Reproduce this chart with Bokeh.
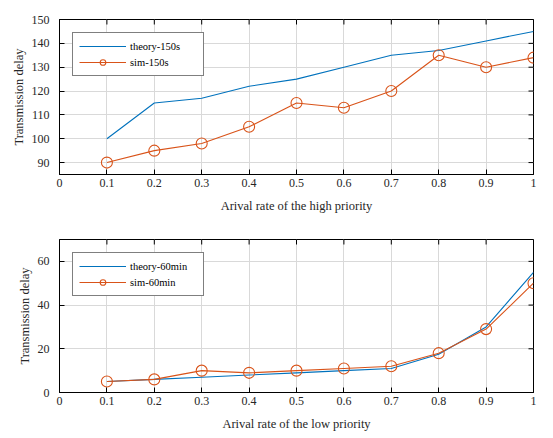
import math
from bokeh.plotting import figure
from bokeh.models import Range1d, FixedTicker, Legend, LegendItem
from bokeh.layouts import column
from bokeh.embed import file_html
from bokeh.resources import INLINE

# ---- data ----
x = [0.1, 0.2, 0.3, 0.4, 0.5, 0.6, 0.7, 0.8, 0.9, 1.0]
theory_high = [100, 115, 117, 122, 125, 130, 135, 137, 141, 145]
sim_high = [90, 95, 98, 105, 115, 113, 120, 135, 130, 134]
theory_low = [5, 6, 7, 8, 9, 10, 11, 17.5, 30, 55]
sim_low = [5, 6, 10, 9, 10, 11, 12, 18, 29, 50]

x_ticks = [0, 0.1, 0.2, 0.3, 0.4, 0.5, 0.6, 0.7, 0.8, 0.9, 1]
x_tick_labels = ["0", "0.1", "0.2", "0.3", "0.4", "0.5", "0.6", "0.7", "0.8", "0.9", "1"]
high_ticks = [90, 100, 110, 120, 130, 140, 150]
low_ticks = [0, 20, 40, 60]

BLUE = "#0072BD"
ORANGE = "#D95319"
FONT = "Liberation Serif"
TXT = "#262626"


def style_axis(ax):
    ax.axis_line_color = "black"
    ax.major_tick_line_color = "black"
    ax.major_tick_in = 5
    ax.major_tick_out = 0
    ax.minor_tick_line_color = None
    ax.major_label_text_font = FONT
    ax.major_label_text_font_size = "12px"
    ax.major_label_text_color = TXT
    ax.axis_label_text_font = FONT
    ax.axis_label_text_font_size = "12.5px"
    ax.axis_label_text_font_style = "normal"
    ax.axis_label_text_color = TXT


def make_fig(height, top, bottom, yr, yticks, theory, sim, xlabel, tlabel, slabel):
    p = figure(width=545, height=height, output_backend="svg", toolbar_location=None,
               x_range=Range1d(0, 1), y_range=Range1d(*yr),
               min_border_left=59, min_border_right=12,
               min_border_top=top, min_border_bottom=bottom)
    p.outline_line_color = "black"
    p.outline_line_width = 1
    p.outline_line_alpha = 1
    p.background_fill_color = "white"
    p.border_fill_color = "white"

    p.xaxis.ticker = FixedTicker(ticks=x_ticks)
    p.xaxis.major_label_overrides = {t: l for t, l in zip(x_ticks, x_tick_labels)}
    p.yaxis.ticker = FixedTicker(ticks=yticks)
    style_axis(p.xaxis[0])
    style_axis(p.yaxis[0])
    p.xaxis.axis_label = xlabel
    p.yaxis.axis_label = "Transmission delay"
    p.xaxis.major_label_standoff = 4
    p.xaxis.axis_label_standoff = 9
    p.yaxis.major_label_standoff = 10
    p.yaxis.axis_label_standoff = 3

    p.grid.grid_line_color = "#d9d9d9"
    p.grid.grid_line_width = 1
    p.xgrid.ticker = FixedTicker(ticks=x_ticks)
    p.ygrid.ticker = FixedTicker(ticks=yticks)

    # mirrored inward ticks on top and right edges (half clipped by the frame)
    p.scatter(x_ticks, [yr[1]] * len(x_ticks), marker="dash", angle=math.pi / 2,
              size=10, line_color="black", line_width=1)
    p.scatter([1] * len(yticks), yticks, marker="dash",
              size=10, line_color="black", line_width=1)

    r1 = p.line(x, theory, line_color=BLUE, line_width=1.1)
    r2 = p.line(x, sim, line_color=ORANGE, line_width=1.1)
    r3 = p.scatter(x, sim, marker="circle", size=11, fill_color=None,
                   line_color=ORANGE, line_width=1.1)

    legend = Legend(items=[LegendItem(label=tlabel, renderers=[r1]),
                           LegendItem(label=slabel, renderers=[r2, r3])],
                    location="top_left")
    legend.margin = 13
    legend.padding = 6
    legend.spacing = 2
    legend.glyph_width = 47
    legend.glyph_height = 14
    legend.label_height = 14
    legend.label_width = 67
    legend.label_standoff = 4
    legend.label_text_font = FONT
    legend.label_text_font_size = "10.5px"
    legend.label_text_color = "black"
    legend.border_line_color = "black"
    legend.border_line_width = 1
    legend.background_fill_color = "white"
    legend.background_fill_alpha = 1
    p.add_layout(legend, "center")
    return p


p1 = make_fig(220, 19, 46, (85, 150), high_ticks, theory_high, sim_high,
              "Arival rate of the high priority", "theory-150s", "sim-150s")
p2 = make_fig(216, 19, 44, (0, 70), low_ticks, theory_low, sim_low,
              "Arival rate of the low priority", "theory-60min", "sim-60min")

layout = column(p1, p2, spacing=0)
open("out.html", "w").write(file_html(layout, INLINE))
